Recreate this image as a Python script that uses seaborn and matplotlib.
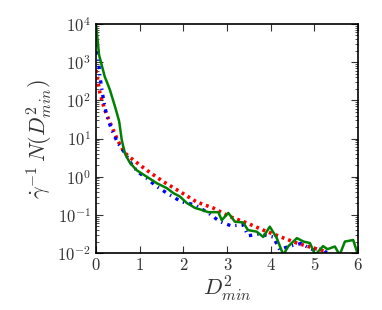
import numpy as np
import pandas as pd
import matplotlib
matplotlib.use("Agg")
import matplotlib.pyplot as plt
import seaborn as sns

# green solid series
green_x = [0.0, 0.07, 0.2, 0.26, 0.32, 0.41, 0.47, 0.53, 0.59, 0.66, 0.71, 0.78, 0.93, 1.16, 1.39, 1.62, 1.77, 1.92,
           2.08, 2.27, 2.42, 2.57, 2.8, 2.88, 3.03, 3.18, 3.37, 3.48, 3.68, 3.83, 3.98, 4.14,
           4.29, 4.4, 4.6, 4.75, 4.9, 5.02, 5.2, 5.3, 5.47, 5.58, 5.7, 5.89, 6.0]
green_log = [4.0, 3.19, 2.62, 2.45, 2.27, 1.93, 1.7, 1.45, 0.96, 0.62, 0.5, 0.36, 0.17, 0.0, -0.17, -0.3, -0.43, -0.52,
             -0.69, -0.82, -0.87, -0.93, -0.93, -1.14, -0.95, -1.18, -1.2, -1.4, -1.44, -1.58, -1.31, -1.61,
             -2.05, -1.83, -1.61, -1.7, -1.74, -2.05, -1.82, -1.9, -1.83, -2.05, -1.7, -1.66, -2.05]

# red dotted series
red_x = [0.0, 0.09, 0.2, 0.36, 0.51, 0.66, 0.85, 1.16, 1.54, 1.92, 2.3, 2.68, 3.07, 3.45,
         3.83, 4.21, 4.6, 4.98, 5.28]
red_log = [2.79, 2.19, 1.75, 1.31, 0.92, 0.62, 0.44, 0.17, -0.13, -0.39, -0.66, -0.82, -1.05, -1.21,
           -1.4, -1.57, -1.74, -1.87, -1.97]

# blue dash-dot series
blue_x = [0.0, 0.05, 0.09, 0.16, 0.24, 0.36, 0.5, 0.66, 0.85, 1.0, 1.16, 1.39, 1.69, 1.96,
          2.27, 2.57, 2.84, 3.1, 3.37, 3.48, 3.74, 4.06, 4.21, 4.4, 4.7, 4.82, 4.98, 5.2, 5.28]
blue_log = [3.67, 3.14, 2.62, 2.1, 1.62, 1.22, 0.88, 0.62, 0.26, 0.09, -0.04, -0.26, -0.48, -0.66,
            -0.74, -0.95, -1.18, -1.29, -1.26, -1.55, -1.5, -1.58, -1.92, -1.83, -1.75, -1.83, -1.92, -1.89, -2.0]

sns.set_style("ticks")
plt.rcParams["mathtext.fontset"] = "cm"
plt.rcParams["font.family"] = ["serif"]
plt.rcParams["font.serif"] = ["cmr10", "DejaVu Serif"]
plt.rcParams["axes.formatter.use_mathtext"] = True
plt.rcParams["xtick.direction"] = "in"
plt.rcParams["ytick.direction"] = "in"

fig = plt.figure(figsize=(3.82, 3.10), dpi=100)
ax = fig.add_axes([96 / 382, 57 / 310, 262 / 382, 229 / 310])

sns.lineplot(x=red_x, y=10 ** np.array(red_log), ax=ax, color="red", lw=2.6,
             linestyle=(0, (0.8, 1.1)), estimator=None, sort=False)
sns.lineplot(x=blue_x, y=10 ** np.array(blue_log), ax=ax, color="blue", lw=2.4,
             linestyle=(0, (1.0, 1.5, 0.4, 1.5)), estimator=None, sort=False)
sns.lineplot(x=green_x, y=10 ** np.array(green_log), ax=ax, color="green", lw=1.8,
             linestyle="-", estimator=None, sort=False)

ax.set_yscale("log")
ax.set_xlim(0, 6)
ax.set_ylim(1e-2, 1e4)
ax.set_xticks([0, 1, 2, 3, 4, 5, 6])
ax.set_xticklabels(["0", "1", "2", "3", "4", "5", "6"])
ax.tick_params(which="both", top=True, right=True, direction="in", labelsize=12, colors="#333333")
ax.tick_params(which="major", length=5, width=0.8)
ax.tick_params(which="minor", length=2.5, width=0.6)
for s in ax.spines.values():
    s.set_linewidth(1.2)
    s.set_color("black")
ax.set_xlabel(r"$D^2_{min}$", fontsize=16, labelpad=0, color="#333333")
ax.set_ylabel(r"$\dot{\gamma}^{-1}\,N(D^2_{min})$", fontsize=16, labelpad=2, color="#333333")

fig.savefig("out.png", dpi=100)
